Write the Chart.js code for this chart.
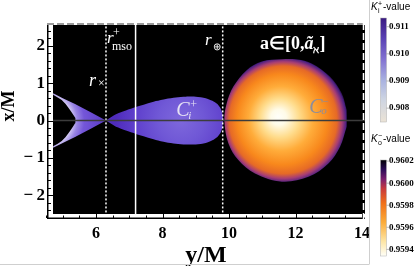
<!DOCTYPE html>
<html>
<head>
<meta charset="utf-8">
<script src="https://cdn.jsdelivr.net/npm/chart.js@4.4.1/dist/chart.umd.min.js"></script>
<style>
  html, body { margin: 0; padding: 0; background: #fff; }
</style>
</head>
<body>
<canvas id="chart" width="415" height="266"></canvas>
<script>
// horizontal axis is y/M, vertical axis is x/M (shapes are mirrored about x/M = 0)
const hornOuterY = [4.71, 5.00, 5.37, 5.87, 6.30];
const hornOuterX = [0.73, 0.60, 0.44, 0.21, 0.00];
const hornInnerY = [4.71, 4.85, 4.97, 5.08, 5.17, 5.25, 5.32, 5.37, 5.39];
const hornInnerX = [0.69, 0.62, 0.55, 0.45, 0.34, 0.24, 0.15, 0.07, 0.00];

const lobeY = [6.30, 6.60, 6.90, 7.20, 7.50, 7.80, 8.10, 8.40, 8.70, 9.00, 9.30, 9.50, 9.65, 9.75, 9.80, 9.82];
const lobeX = [0.00, 0.17, 0.27, 0.36, 0.44, 0.52, 0.58, 0.62, 0.64, 0.64, 0.60, 0.53, 0.44, 0.32, 0.18, 0.00];

const blobY = [13.54, 13.39, 13.04, 12.49, 11.99, 11.59, 10.98, 10.53, 10.13, 9.93, 9.86, 9.98, 10.28, 10.78, 11.59, 12.39, 12.99, 13.34, 13.54];
const blobX = [0.28, 0.73, 1.17, 1.53, 1.64, 1.64, 1.58, 1.35, 0.91, 0.46, 0.01, -0.61, -1.06, -1.42, -1.64, -1.51, -1.15, -0.70, -0.17];

// radii marked by vertical lines
const rCross = 6.30;
const rMso = 7.19;
const rPlus = 9.81;

const xTicks = [6, 8, 10, 12, 14];
const yTicks = [-2, -1, 0, 1, 2];

// legend bars
const kiTicks = ['0.911', '0.910', '0.909', '0.908'];
const kiRange = [0.90749, 0.91132];
const koTicks = ['0.9602', '0.9600', '0.9598', '0.9596', '0.9594'];
const koRange = [0.95934, 0.96021];

const serif = "'Liberation Serif', 'Times New Roman', serif";
const sans = "'Liberation Sans', Arial, sans-serif";

function mirrorShape(ys, xs) {
    const top = ys.map((v, i) => ({x: v, y: xs[i]}));
    const bottom = ys.map((v, i) => ({x: v, y: -xs[i]})).reverse();
    return top.concat(bottom.slice(1, -1));
}

function hornShape() {
    const outerTop = hornOuterY.map((v, i) => ({x: v, y: hornOuterX[i]}));
    const outerBot = hornOuterY.map((v, i) => ({x: v, y: -hornOuterX[i]})).reverse();
    const innerBot = hornInnerY.map((v, i) => ({x: v, y: -hornInnerX[i]}));
    const innerTop = hornInnerY.map((v, i) => ({x: v, y: hornInnerX[i]})).reverse();
    return outerTop.concat(outerBot.slice(1), innerBot, innerTop.slice(1));
}

function vline(v) {
    return [{x: v, y: -3}, {x: v, y: 3}];
}

// fills use the scales so gradients follow the axes
function hornFill(c) {
    const ch = c.chart;
    if (!ch.chartArea) return '#6a4cd2';
    const xs = ch.scales.x, ys = ch.scales.y;
    const cx = xs.getPixelForValue(4.53), cy = ys.getPixelForValue(0);
    const r = xs.getPixelForValue(4.53 + 1.86) - cx;
    const g = ch.ctx.createRadialGradient(cx, cy, 0, cx, cy, r);
    g.addColorStop(0, '#ffffff');
    g.addColorStop(0.37, '#f2eefc');
    g.addColorStop(0.42, '#c6baf0');
    g.addColorStop(0.49, '#9884e4');
    g.addColorStop(0.6, '#7456d8');
    g.addColorStop(1, '#5636c4');
    return g;
}

function lobeFill(c) {
    const ch = c.chart;
    if (!ch.chartArea) return '#6a4cd2';
    const xs = ch.scales.x, ys = ch.scales.y;
    const cx = xs.getPixelForValue(8.55), cy = ys.getPixelForValue(0.02);
    const r = xs.getPixelForValue(8.55 + 1.95) - cx;
    const g = ch.ctx.createRadialGradient(cx, cy, 0, cx, cy, r);
    g.addColorStop(0, '#7e68dc');
    g.addColorStop(0.35, '#7058d6');
    g.addColorStop(0.7, '#5f40cc');
    g.addColorStop(1, '#4f2cbc');
    return g;
}

function blobFill(c) {
    const ch = c.chart;
    if (!ch.chartArea) return '#f5821f';
    const xs = ch.scales.x, ys = ch.scales.y;
    const ix = xs.getPixelForValue(11.47), iy = ys.getPixelForValue(0.1);
    const ox = xs.getPixelForValue(11.66), oy = ys.getPixelForValue(0.0);
    const r = xs.getPixelForValue(11.66 + 1.95) - ox;
    const g = ch.ctx.createRadialGradient(ix, iy, 0, ox, oy, r);
    g.addColorStop(0, '#fffffa');
    g.addColorStop(0.12, '#fffbe8');
    g.addColorStop(0.3, '#ffdc8c');
    g.addColorStop(0.5, '#ffac3a');
    g.addColorStop(0.7, '#f8881c');
    g.addColorStop(0.83, '#e66a26');
    g.addColorStop(0.9, '#a83e74');
    g.addColorStop(0.96, '#4c2082');
    g.addColorStop(1, '#0a0014');
    return g;
}

// text pieces, positioned relative to an anchor given in data units
const plotLabels = [
    {at: [5.79, 0.92], color: '#fff', parts: [
        {t: 'r', font: 'italic 18px ' + serif, dx: 0, dy: 0},
        {t: '\u00d7', font: '12px ' + serif, dx: 9, dy: 1}
    ]},
    {at: [6.33, 2.08], color: '#fff', parts: [
        {t: 'r', font: 'italic 17px ' + serif, dx: 0, dy: 0},
        {t: '+', font: '12px ' + serif, dx: 6, dy: -7},
        {t: 'mso', font: '12px ' + serif, dx: 5, dy: 7}
    ]},
    {at: [9.28, 2.02], color: '#fff', parts: [
        {t: 'r', font: 'italic 17px ' + serif, dx: 0, dy: 0},
        {t: '\u2295', font: '10px ' + serif, dx: 8, dy: 5}
    ]},
    {at: [10.93, 1.92], color: '#fff', parts: [
        {t: 'a\u2208[0,', font: 'bold 18px ' + serif},
        {t: '\u00e3', font: 'bold italic 18px ' + serif},
        {t: '\u2135', font: 'bold 10px ' + serif, dy: 4},
        {t: ']', font: 'bold 18px ' + serif}
    ]},
    {at: [8.41, 0.12], color: '#e6e2f4', parts: [
        {t: 'C', font: 'italic 20px ' + serif, dx: 0, dy: 0},
        {t: '+', font: '12px ' + serif, dx: 14, dy: -8},
        {t: 'i', font: 'italic 11px ' + serif, dx: 12, dy: 3}
    ]},
    {at: [12.41, 0.21], color: '#8c8c9c', parts: [
        {t: 'C', font: 'italic 20px ' + serif, dx: 0, dy: 0},
        {t: '\u2212', font: '11px ' + serif, dx: 13, dy: -8},
        {t: 'o', font: 'italic 11px ' + serif, dx: 12, dy: 1}
    ]}
];

function drawRich(ctx, x, y, color, parts) {
    let cursor = x;
    ctx.fillStyle = color;
    ctx.textBaseline = 'alphabetic';
    ctx.textAlign = 'left';
    parts.forEach(p => {
        ctx.font = p.font;
        const px = p.dx !== undefined ? x + p.dx : cursor;
        ctx.fillText(p.t, px, y + (p.dy || 0));
        cursor = px + ctx.measureText(p.t).width;
    });
}

function line(ctx, x1, y1, x2, y2) {
    ctx.beginPath();
    ctx.moveTo(x1, y1);
    ctx.lineTo(x2, y2);
    ctx.stroke();
}

const framePlugin = {
    id: 'frame',
    beforeDatasetsDraw(chart) {
        const {ctx, chartArea: a} = chart;
        ctx.save();
        ctx.fillStyle = '#000';
        ctx.fillRect(a.left, a.top, a.right - a.left, a.bottom - a.top);
        ctx.restore();
    },
    afterDatasetsDraw(chart) {
        const {ctx, chartArea: a, scales} = chart;
        ctx.save();
        // white bands holding the ticks on the left and bottom
        ctx.fillStyle = '#fff';
        ctx.fillRect(a.left, a.top, 6, a.bottom - a.top);
        ctx.fillRect(a.left, a.bottom - 5, a.right - a.left, 5);
        ctx.fillRect(a.left, a.top, a.right - a.left, 2);

        ctx.strokeStyle = '#000';
        ctx.lineWidth = 1.5;
        line(ctx, a.left + 0.75, a.top, a.left + 0.75, a.bottom);
        line(ctx, a.left, a.bottom - 0.75, a.right, a.bottom - 0.75);

        ctx.lineWidth = 1;
        for (let v = -2.6; v <= 2.61; v += 0.2) {
            const py = Math.round(scales.y.getPixelForValue(v)) + 0.5;
            const major = Math.abs(v - Math.round(v)) < 1e-6;
            line(ctx, a.left + 1, py, a.left + (major ? 6 : 4), py);
        }
        for (let v = 4.5; v <= 14.01; v += 0.5) {
            const px = Math.round(scales.x.getPixelForValue(v)) + 0.5;
            const major = Math.abs(v / 2 - Math.round(v / 2)) < 1e-6;
            line(ctx, px, a.bottom - 1, px, a.bottom - (major ? 5 : 3.5));
        }

        // dashed top and right edges
        ctx.setLineDash([7, 3]);
        ctx.strokeStyle = '#9a9a9a';
        ctx.lineWidth = 2;
        line(ctx, a.left, a.top + 1, a.right, a.top + 1);
        ctx.strokeStyle = '#fff';
        ctx.lineWidth = 1.5;
        line(ctx, a.right - 1.5, a.top, a.right - 1.5, a.bottom);
        ctx.setLineDash([]);

        plotLabels.forEach(l => {
            drawRich(ctx, scales.x.getPixelForValue(l.at[0]), scales.y.getPixelForValue(l.at[1]), l.color, l.parts);
        });
        ctx.restore();
    },
    afterDraw(chart) {
        const ctx = chart.ctx;
        ctx.save();
        // vertical axis title, set a little above the middle as in the source
        ctx.translate(9, 106);
        ctx.rotate(-Math.PI / 2);
        ctx.font = 'bold 18px ' + serif;
        ctx.fillStyle = '#000';
        ctx.textAlign = 'center';
        ctx.textBaseline = 'middle';
        ctx.fillText('x/M', 0, 0);
        ctx.restore();

        ctx.save();
        // panel edges
        ctx.strokeStyle = '#cfcfcf';
        ctx.lineWidth = 1;
        line(ctx, 369.5, 0, 369.5, 264);
        line(ctx, 0, 264.5, 369.5, 264.5);

        drawBar(ctx, 18, 122, [
            [0, '#3a1a80'], [0.2, '#5a42b4'], [0.4, '#8373d2'], [0.6, '#a9b2e0'], [0.78, '#cdd4e2'], [1, '#ebe3d6']
        ], kiTicks, kiRange);
        drawBar(ctx, 160, 256, [
            [0, '#000004'], [0.1, '#2c0c58'], [0.2, '#7a1f6e'], [0.3, '#c83a3c'], [0.45, '#f0701a'], [0.65, '#fbac3a'], [0.85, '#fde6a6'], [1, '#fffff8']
        ], koTicks, koRange);

        drawRich(ctx, 371, 10, '#000', [
            {t: 'K', font: 'italic 10px ' + sans, dx: 0},
            {t: 'i', font: '7px ' + sans, dx: 7, dy: 3},
            {t: '+', font: '7px ' + sans, dx: 7, dy: -4},
            {t: '-value', font: '10px ' + sans, dx: 12}
        ]);
        drawRich(ctx, 371, 142, '#000', [
            {t: 'K', font: 'italic 10px ' + sans, dx: 0},
            {t: 'o', font: '7px ' + sans, dx: 7, dy: 3},
            {t: '\u2212', font: '7px ' + sans, dx: 7, dy: -4},
            {t: '-value', font: '10px ' + sans, dx: 12}
        ]);
        ctx.restore();
    }
};

function drawBar(ctx, top, bottom, stops, ticks, range) {
    const left = 380.5, w = 6;
    const g = ctx.createLinearGradient(0, top, 0, bottom);
    stops.forEach(s => g.addColorStop(s[0], s[1]));
    ctx.fillStyle = g;
    ctx.fillRect(left, top, w, bottom - top);
    ctx.strokeStyle = '#b0b0b0';
    ctx.lineWidth = 0.5;
    ctx.strokeRect(left, top, w, bottom - top);
    ctx.font = 'bold 9px ' + serif;
    ctx.textBaseline = 'middle';
    ctx.textAlign = 'left';
    ctx.fillStyle = '#000';
    ticks.forEach(t => {
        const y = top + (range[1] - parseFloat(t)) / (range[1] - range[0]) * (bottom - top);
        ctx.strokeStyle = '#777';
        line(ctx, left + w, y, left + w + 2.5, y);
        ctx.fillText(t, 389, y);
    });
}

const overlay = (data, color, width, dash) => ({
    data: data, borderColor: color, borderWidth: width, borderDash: dash || [],
    pointRadius: 0, fill: false, tension: 0
});

new Chart(document.getElementById('chart'), {
    type: 'line',
    data: {
        datasets: [
            overlay([{x: 4.4, y: 0}, {x: 14.2, y: 0}], '#3c3c3c', 1.5),
            overlay(vline(rCross), '#ffffff', 1.5, [2, 2]),
            overlay(vline(rMso), '#ffffff', 1.5),
            overlay(vline(rPlus), '#ffffff', 1.5, [2, 2]),
            {data: mirrorShape(lobeY, lobeX), fill: 'shape', backgroundColor: lobeFill, borderWidth: 0, pointRadius: 0, tension: 0.25},
            {data: hornShape(), fill: 'shape', backgroundColor: hornFill, borderWidth: 0, pointRadius: 0, tension: 0},
            {data: blobY.map((v, i) => ({x: v, y: blobX[i]})), fill: 'shape', backgroundColor: blobFill, borderWidth: 0, pointRadius: 0, tension: 0.35}
        ]
    },
    options: {
        responsive: false,
        animation: false,
        events: [],
        layout: {padding: {top: 23, right: 50, bottom: 0, left: 0}},
        plugins: {legend: {display: false}, tooltip: {enabled: false}},
        scales: {
            x: {
                type: 'linear', min: 4.526, max: 14.09,
                afterBuildTicks: s => { s.ticks = xTicks.map(v => ({value: v})); },
                afterFit: s => { s.height = 47; },
                grid: {display: false, drawTicks: false},
                border: {display: false},
                ticks: {font: {family: serif, weight: 'bold', size: 16}, color: '#000', padding: 5, maxRotation: 0, autoSkip: false},
                title: {display: true, text: 'y/M', color: '#000', font: {family: serif, weight: 'bold', size: 24, lineHeight: 1}, padding: {top: 0, bottom: -2}}
            },
            y: {
                type: 'linear', min: -2.64, max: 2.614,
                afterBuildTicks: s => { s.ticks = yTicks.map(v => ({value: v})); },
                afterFit: s => { s.width = 47; },
                grid: {display: false, drawTicks: false},
                border: {display: false},
                ticks: {
                    font: {family: serif, weight: 'bold', size: 17}, color: '#000', padding: 2, autoSkip: false,
                    callback: v => v < 0 ? '\u2212\u2009' + Math.abs(v) : String(v)
                },
                title: {display: false}
            }
        }
    },
    plugins: [framePlugin]
});
</script>
</body>
</html>
